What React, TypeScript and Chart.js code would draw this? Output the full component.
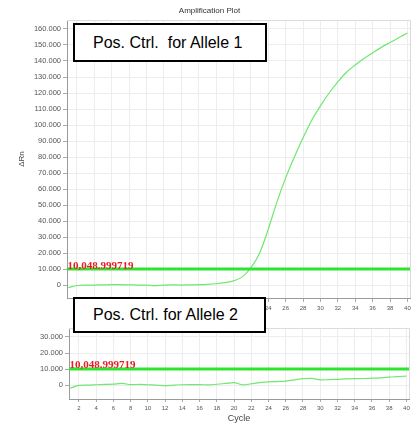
import React, { useEffect, useRef } from "react";
import { Chart, registerables } from "chart.js";

Chart.register(...registerables);

const CYCLES = [1, 2, 3, 4, 5, 6, 7, 8, 9, 10, 11, 12, 13, 14, 15, 16, 17, 18, 19, 20, 21, 22, 23, 24, 25, 26, 27, 28, 29, 30, 31, 32, 33, 34, 35, 36, 37, 38, 39, 40];

const ALLELE1_VALUES = [-1500, -200, 0, 100, 200, 300, 300, 200, 100, 0, -300, 100, 200, 100, 200, 300, 500, 900, 1600, 2700, 5200, 11000, 20000, 35000, 52000, 67000, 80000, 92000, 103000, 112000, 120000, 127000, 133000, 137500, 141500, 145000, 148500, 151500, 154500, 157500];

const ALLELE2_VALUES = [-2000, -200, 0, 200, 400, 600, 1000, 300, 400, 200, 0, -500, 0, 200, 300, 300, 100, 500, 1000, 1500, 100, 800, 1500, 2000, 2200, 2500, 3200, 4000, 4200, 3200, 3400, 3600, 3800, 4000, 4100, 4300, 4500, 4900, 5300, 5600];

const THRESHOLD = 10048.999719;
const THRESHOLD_LABEL = "10,048.999719";

const X_TICKS = [2, 4, 6, 8, 10, 12, 14, 16, 18, 20, 22, 24, 26, 28, 30, 32, 34, 36, 38, 40];
const Y_TICKS_TOP = [0, 10000, 20000, 30000, 40000, 50000, 60000, 70000, 80000, 90000, 100000, 110000, 120000, 130000, 140000, 150000, 160000];
const Y_TICKS_BOTTOM = [0, 10000, 20000, 30000];

const X_MIN = 0.85;
const X_MAX = 40.3;

const TITLE = "Amplification Plot";
const Y_TITLE = "ΔRn";
const X_TITLE = "Cycle";
const BOX1 = "Pos. Ctrl.  for Allele 1";
const BOX2 = "Pos. Ctrl. for Allele 2";

const CURVE_COLOR = "#6ee86e";
const THRESH_COLOR = "#2ee52e";
const SANS = "'Liberation Sans', Arial, sans-serif";

function fmt(v: number): string {
  if (v === 0) return "0";
  return (v / 1000).toFixed(0) + ".000";
}

function makeExtras(title: string | null) {
  return {
    id: "extras",
    afterDatasetsDraw(chart: any) {
      const { ctx, chartArea } = chart;
      const ys = chart.scales.y;
      ctx.save();
      // light frame top & right
      ctx.strokeStyle = "#dcdcdc";
      ctx.lineWidth = 1;
      ctx.beginPath();
      ctx.moveTo(chartArea.left, chartArea.top + 0.5);
      ctx.lineTo(chartArea.right + 0.5, chartArea.top + 0.5);
      ctx.lineTo(chartArea.right + 0.5, chartArea.bottom);
      ctx.stroke();
      // threshold label
      const ty = ys.getPixelForValue(THRESHOLD);
      ctx.fillStyle = "#e81c24";
      ctx.font = "bold 11px 'Liberation Serif', 'Times New Roman', serif";
      ctx.textAlign = "left";
      ctx.textBaseline = "alphabetic";
      ctx.fillText(THRESHOLD_LABEL, chartArea.left + 0.5, ty - 0.5);
      if (title) {
        ctx.fillStyle = "#333";
        ctx.font = "8px " + SANS;
        ctx.textAlign = "center";
        ctx.textBaseline = "middle";
        ctx.fillText(title, chart.width / 2, 11);
      }
      ctx.restore();
    },
  };
}

function buildConfig(opts: {
  values: number[];
  yMin: number;
  yMax: number;
  yTicks: number[];
  yWidth: number;
  xHeight: number;
  padding: any;
  title: string | null;
  yTitle: boolean;
  xTitle: boolean;
  tickLenX: number;
}): any {
  return {
    type: "line",
    data: {
      datasets: [
        {
          label: "Threshold",
          data: [
            { x: X_MIN, y: THRESHOLD },
            { x: X_MAX, y: THRESHOLD },
          ],
          borderColor: THRESH_COLOR,
          borderWidth: 3,
          pointRadius: 0,
        },
        {
          label: "Curve",
          data: CYCLES.map((c, i) => ({ x: c, y: opts.values[i] })),
          borderColor: CURVE_COLOR,
          borderWidth: 1.2,
          pointRadius: 0,
          cubicInterpolationMode: "monotone",
        },
      ],
    },
    options: {
      animation: false,
      responsive: false,
      maintainAspectRatio: false,
      layout: { padding: opts.padding },
      plugins: {
        legend: { display: false },
        title: { display: false },
        tooltip: { enabled: false },
      },
      scales: {
        x: {
          type: "linear",
          min: X_MIN,
          max: X_MAX,
          afterBuildTicks: (scale: any) => {
            scale.ticks = X_TICKS.map((v) => ({ value: v }));
          },
          afterFit: (scale: any) => {
            scale.height = opts.xHeight;
          },
          ticks: {
            color: "#555",
            font: { size: 6, family: SANS },
            padding: 3,
            maxRotation: 0,
            autoSkip: false,
            callback: (v: any) => String(v),
          },
          grid: {
            color: "#ededed",
            tickColor: "#aaa",
            tickLength: opts.tickLenX,
          },
          border: { display: true, color: "#9a9a9a", width: 1 },
          title: {
            display: opts.xTitle,
            text: X_TITLE,
            color: "#444",
            font: { size: 9, family: SANS },
            padding: { top: 0, bottom: 1 },
          },
        },
        y: {
          type: "linear",
          min: opts.yMin,
          max: opts.yMax,
          afterBuildTicks: (scale: any) => {
            scale.ticks = opts.yTicks.map((v) => ({ value: v }));
          },
          afterFit: (scale: any) => {
            scale.width = opts.yWidth;
          },
          ticks: {
            color: "#555",
            font: { size: 7.5, family: SANS },
            padding: 2,
            autoSkip: false,
            callback: (v: any) => fmt(Number(v)),
          },
          grid: {
            color: "#ededed",
            tickColor: "#aaa",
            tickLength: 4,
          },
          border: { display: true, color: "#9a9a9a", width: 1 },
          title: {
            display: opts.yTitle,
            text: Y_TITLE,
            color: "#444",
            font: { size: 8, family: SANS },
            padding: { top: 17, bottom: 0 },
          },
        },
      },
    },
    plugins: [makeExtras(opts.title)],
  };
}

export default function App() {
  const topRef = useRef<HTMLCanvasElement | null>(null);
  const botRef = useRef<HTMLCanvasElement | null>(null);

  useEffect(() => {
    const c1 = new Chart(
      topRef.current as HTMLCanvasElement,
      buildConfig({
        values: ALLELE1_VALUES,
        yMin: -8000,
        yMax: 165600,
        yTicks: Y_TICKS_TOP,
        yWidth: 67,
        xHeight: 20,
        padding: { top: 20, right: 9, bottom: 0, left: 0 },
        title: TITLE,
        yTitle: true,
        xTitle: false,
        tickLenX: 4,
      })
    );
    const c2 = new Chart(
      botRef.current as HTMLCanvasElement,
      buildConfig({
        values: ALLELE2_VALUES,
        yMin: -8700,
        yMax: 35600,
        yTicks: Y_TICKS_BOTTOM,
        yWidth: 69,
        xHeight: 26,
        padding: { top: 10, right: 10, bottom: 0, left: 0 },
        title: null,
        yTitle: false,
        xTitle: true,
        tickLenX: 3,
      })
    );
    return () => {
      c1.destroy();
      c2.destroy();
    };
  }, []);

  const boxStyle: React.CSSProperties = {
    position: "absolute",
    left: 73,
    width: 194,
    boxSizing: "border-box",
    border: "2px solid #000",
    background: "#fff",
    fontFamily: SANS,
    fontSize: 16,
    color: "#000",
    paddingLeft: 18,
    display: "flex",
    alignItems: "center",
    whiteSpace: "pre",
    zIndex: 2,
  };

  return (
    <div
      style={{
        position: "fixed",
        left: 0,
        top: 0,
        width: 419,
        height: 425,
        background: "#fff",
        overflow: "hidden",
      }}
    >
      <canvas
        ref={topRef}
        width={419}
        height={318}
        style={{ position: "absolute", left: 0, top: 0, width: 419, height: 318 }}
      />
      <canvas
        ref={botRef}
        width={419}
        height={107}
        style={{ position: "absolute", left: 0, top: 318, width: 419, height: 107 }}
      />
      <div style={{ ...boxStyle, top: 23, height: 39 }}>{BOX1}</div>
      <div style={{ ...boxStyle, top: 297, height: 36, width: 193 }}>{BOX2}</div>
    </div>
  );
}
